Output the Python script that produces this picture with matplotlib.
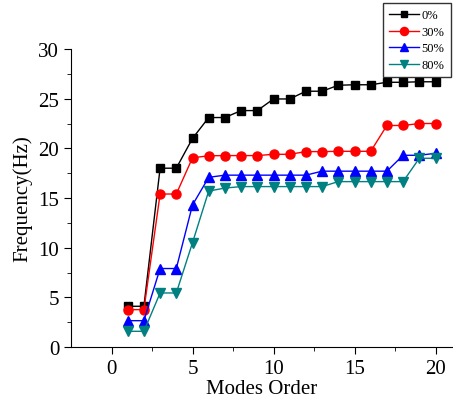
import matplotlib.pyplot as plt
import numpy as np

plt.rcParams['font.family'] = ['Liberation Serif', 'DejaVu Serif']

modes = np.arange(1, 21)
f_0 = [4.1, 4.1, 18.0, 18.0, 21.0, 23.1, 23.1, 23.8, 23.8, 24.97, 24.97, 25.75, 25.75,
       26.35, 26.4, 26.4, 26.65, 26.65, 26.7, 26.7]
f_30 = [3.76, 3.76, 15.4, 15.4, 19.05, 19.25, 19.27, 19.27, 19.27, 19.4, 19.4, 19.67, 19.67,
        19.7, 19.7, 19.7, 22.3, 22.3, 22.5, 22.5]
f_50 = [2.65, 2.65, 7.9, 7.9, 14.3, 17.08, 17.3, 17.3, 17.3, 17.3, 17.3, 17.3, 17.7,
        17.7, 17.7, 17.7, 17.7, 19.3, 19.3, 19.5]
f_80 = [1.58, 1.58, 5.44, 5.44, 10.5, 15.7, 16.0, 16.15, 16.15, 16.15, 16.15, 16.15, 16.15,
        16.65, 16.65, 16.65, 16.65, 16.65, 19.0, 19.0]
labels = ['0%', '30%', '50%', '80%']

fig = plt.figure(figsize=(4.53, 4.06), dpi=100)
ax = fig.add_axes([71/453, 1-348/406, 1-71/453, 298/406])

ax.plot(modes, f_0, '-s', color='black', ms=5.5, lw=1, label=labels[0])
ax.plot(modes, f_30, '-o', color='red', ms=6.5, lw=1, label=labels[1])
ax.plot(modes, f_50, '-^', color='blue', ms=6.5, lw=1, label=labels[2])
ax.plot(modes, f_80, '-v', color='#008080', ms=6.5, lw=1, label=labels[3])

ax.set_xlim(-2.5, 21.08)
ax.set_ylim(0, 30)
ax.set_xticks([0, 5, 10, 15, 20])
ax.set_xticks(np.arange(2.5, 21, 5), minor=True)
ax.set_yticks([0, 5, 10, 15, 20, 25, 30])
ax.set_yticks(np.arange(2.5, 30, 5), minor=True)
ax.spines['top'].set_visible(False)
ax.spines['right'].set_visible(False)
ax.tick_params(which='major', direction='out', length=5, labelsize=15)
ax.tick_params(which='minor', direction='out', length=3)
ax.set_xlabel('Modes Order', fontsize=15, labelpad=1)
ax.set_ylabel('Frequency(Hz)', fontsize=15, labelpad=4)

leg = fig.legend(loc='upper left', bbox_to_anchor=(383/453, 1-4/406), fontsize=9,
                 frameon=True, fancybox=False, edgecolor='black', handlelength=2.4,
                 borderaxespad=0, borderpad=0.5, labelspacing=0.37, handletextpad=0.2,
                 markerscale=0.9)
leg.get_frame().set_linewidth(1)

fig.savefig('out.png', dpi=100)
